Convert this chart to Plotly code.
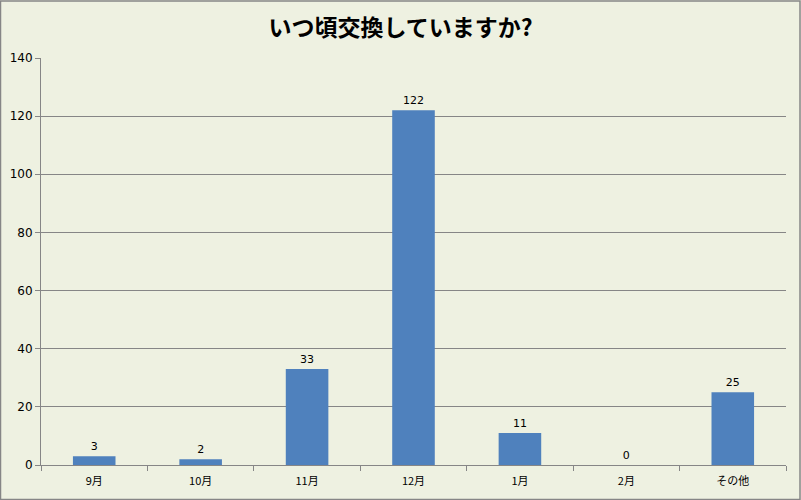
import plotly.graph_objects as go

categories = ["9月", "10月", "11月", "12月", "1月", "2月", "その他"]
values = [3, 2, 33, 122, 11, 0, 25]
title_text = "いつ頃交換していますか?"

W, H = 801, 500
ml, mr, mt, mb = 41, 15, 58, 35
pw, ph = W - ml - mr, H - mt - mb

fig = go.Figure(go.Bar(
    x=categories, y=values,
    marker=dict(color="#4F81BD", line=dict(width=0)),
    width=0.4,
    text=[str(v) for v in values],
    textposition="outside",
    textfont=dict(size=11, color="#000000", family="DejaVu Sans"),
    cliponaxis=False,
))

fig.update_layout(
    width=W, height=H,
    margin=dict(l=ml, r=mr, t=mt, b=mb, autoexpand=False),
    paper_bgcolor="#EEF1E1",
    plot_bgcolor="#EEF1E1",
    title=dict(text="<b>" + title_text + "</b>", x=0.5, xanchor="center",
               y=1 - 28 / H, yanchor="middle",
               font=dict(size=23, color="#000000", family="Noto Sans CJK JP")),
    font=dict(family="Noto Sans CJK JP", size=11, color="#000000"),
    showlegend=False,
    bargap=0.6,
)
fig.update_xaxes(
    showline=True, linecolor="#868686", linewidth=1,
    ticks="outside", ticklen=5, tickcolor="#868686", tickson="boundaries",
    ticklabelstandoff=6, automargin=False,
    showgrid=False, tickfont=dict(size=11),
)
fig.update_yaxes(
    range=[0, 140], dtick=20,
    showline=True, linecolor="#868686", linewidth=1,
    ticks="outside", ticklen=5, tickcolor="#868686", automargin=False,
    showgrid=True, gridcolor="#868686", gridwidth=1,
    zeroline=False, tickfont=dict(size=12, family="DejaVu Sans"),
)
fig.add_shape(type="rect", xref="paper", yref="paper",
              x0=-ml / pw + 0.5 / pw, x1=1 + (mr - 1) / pw,
              y0=-mb / ph + 0.5 / ph, y1=1 + (mt - 1) / ph,
              line=dict(color="#868686", width=1.5), layer="above")

fig.write_html("out.html",
               config={"displayModeBar": False},
               post_script="document.body.style.margin='0';document.body.style.overflow='hidden';")
